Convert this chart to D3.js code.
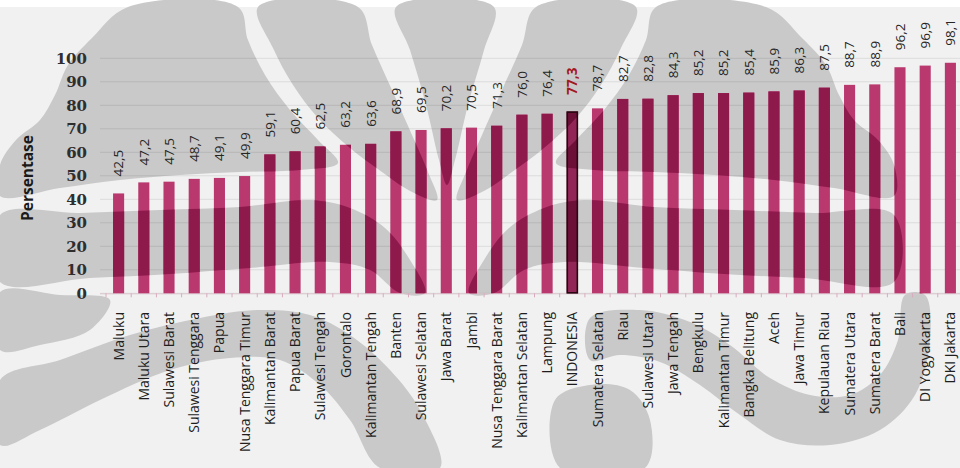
<!DOCTYPE html>
<html>
<head>
<meta charset="utf-8">
<script src="https://cdn.jsdelivr.net/npm/d3@7"></script>
<style>
  html, body { margin: 0; padding: 0; background: #ffffff; }
  svg { display: block; }
</style>
</head>
<body>
<div id="chart"></div>
<script>
// Persentase per provinsi, urut dari terendah ke tertinggi
const provinces = [
  "Maluku", "Maluku Utara", "Sulawesi Barat", "Sulawesi Tenggara", "Papua",
  "Nusa Tenggara Timur", "Kalimantan Barat", "Papua Barat", "Sulawesi Tengah",
  "Gorontalo", "Kalimantan Tengah", "Banten", "Sulawesi Selatan", "Jawa Barat",
  "Jambi", "Nusa Tenggara Barat", "Kalimantan Selatan", "Lampung", "INDONESIA",
  "Sumatera Selatan", "Riau", "Sulawesi Utara", "Jawa Tengah", "Bengkulu",
  "Kalimantan Timur", "Bangka Belitung", "Aceh", "Jawa Timur", "Kepulauan Riau",
  "Sumatera Utara", "Sumatera Barat", "Bali", "DI Yogyakarta", "DKI Jakarta"
];
const percentages = [
  42.5, 47.2, 47.5, 48.7, 49.1, 49.9, 59.1, 60.4, 62.5, 63.2,
  63.6, 68.9, 69.5, 70.2, 70.5, 71.3, 76.0, 76.4, 77.3, 78.7,
  82.7, 82.8, 84.3, 85.2, 85.2, 85.4, 85.9, 86.3, 87.5, 88.7,
  88.9, 96.2, 96.9, 98.1
];
const yTicks = [0, 10, 20, 30, 40, 50, 60, 70, 80, 90, 100];
const nationalLabel = "INDONESIA";
const yTitle = "Persentase";

const W = 960, H = 468;
const fmt = v => v.toFixed(1).replace(".", ",");

const svg = d3.select("#chart").append("svg")
  .attr("width", W).attr("height", H);

const x = d3.scaleBand().domain(provinces).range([106, 963])
  .paddingInner(0.56).paddingOuter(0.28);
const y = d3.scaleLinear().domain([0, 100]).range([293.3, 58.3]);

// Background watermark (university emblem), drawn as soft grey shapes
const AXIS_MID = 447;
const mirror = pts => pts.map(([px, py]) => [2 * AXIS_MID - px, py]);
const lobe = [[128,7],[238,7],[248,40],[265,75],[290,110],[318,140],[338,163],[300,170],[240,172],[180,175],[120,180],[60,188],[0,196],[0,165],[16,140],[40,120],[55,95],[68,65],[92,38]];
const crescent = [[258,7],[358,7],[372,45],[392,90],[412,135],[428,172],[437,200],[412,192],[382,172],[350,148],[318,118],[293,85],[273,48]];
const centre = [[396,7],[494,7],[484,50],[468,105],[455,160],[447,185],[439,160],[426,105],[410,50]];
const band = [[0,215],[80,213],[160,210],[240,207],[310,200],[350,208],[385,228],[410,260],[425,293],[400,293],[370,270],[330,262],[250,268],[170,274],[90,278],[0,282]];
const waveLeft = [[0,380],[60,360],[130,335],[200,318],[260,310],[310,315],[350,335],[390,370],[420,410],[440,468],[380,468],[350,420],[320,385],[280,360],[230,358],[170,370],[100,400],[40,430],[0,445]];
const edgeLeft = [[0,292],[60,295],[110,300],[90,330],[40,345],[0,350]];
const waveRight = [[590,318],[640,310],[690,322],[730,345],[770,378],[810,395],[850,395],[880,375],[898,340],[905,295],[925,295],[930,340],[915,395],[880,430],[830,445],[780,440],[740,415],[700,385],[660,362],[620,355],[590,360]];
const blobRight = [[555,400],[590,385],[630,390],[650,420],[645,468],[560,468]];
const emblem = [lobe, mirror(lobe), crescent, mirror(crescent), centre,
  band, mirror(band), waveLeft, edgeLeft, waveRight, blobRight];

const shapeLine = d3.line().curve(d3.curveCatmullRomClosed.alpha(0.5));
const defs = svg.append("defs");
const clip = defs.append("clipPath").attr("id", "emblem-clip");
emblem.forEach(s => clip.append("path").attr("d", shapeLine(s)));

svg.append("rect").attr("x", 0).attr("y", 7).attr("width", W).attr("height", H - 7)
  .attr("fill", "#f1f1f1");
svg.append("g").selectAll("path").data(emblem).join("path")
  .attr("d", shapeLine).attr("fill", "#c9c9c9");

// Gridlines
svg.append("g").selectAll("line").data(yTicks).join("line")
  .attr("x1", 100).attr("x2", W)
  .attr("y1", d => y(d)).attr("y2", d => y(d))
  .attr("stroke", "#000").attr("stroke-opacity", 0.09).attr("stroke-width", 1);

// Category axis line and ticks between bars
svg.append("line").attr("x1", 100).attr("x2", W)
  .attr("y1", y(0) + 0.5).attr("y2", y(0) + 0.5)
  .attr("stroke", "#dcc6cf");
svg.append("g").selectAll("line").data(provinces).join("line")
  .attr("x1", d => x(d) - x.step() * x.paddingInner() / 2)
  .attr("x2", d => x(d) - x.step() * x.paddingInner() / 2)
  .attr("y1", y(0)).attr("y2", y(0) + 4)
  .attr("stroke", "#d9aabe");

// Bars: light tone everywhere, deep tone where the emblem sits behind
const isNat = d => d === nationalLabel;
const data = provinces.map((p, i) => ({ p, v: percentages[i] }));
const barG = svg.append("g");
barG.selectAll("rect.base").data(data).join("rect")
  .attr("class", "base")
  .attr("x", d => x(d.p)).attr("width", x.bandwidth())
  .attr("y", d => y(d.v)).attr("height", d => y(0) - y(d.v))
  .attr("fill", d => isNat(d.p) ? "#922656" : "#b9396f");
barG.append("g").attr("clip-path", "url(#emblem-clip)")
  .selectAll("rect").data(data).join("rect")
  .attr("x", d => x(d.p)).attr("width", x.bandwidth())
  .attr("y", d => y(d.v)).attr("height", d => y(0) - y(d.v))
  .attr("fill", d => isNat(d.p) ? "#6c1037" : "#8e1a4c");
barG.selectAll("rect.outline").data(data.filter(d => isNat(d.p))).join("rect")
  .attr("class", "outline")
  .attr("x", d => x(d.p) + 0.5).attr("width", x.bandwidth() - 1)
  .attr("y", d => y(d.v) + 0.5).attr("height", d => y(0) - y(d.v) - 1)
  .attr("fill", "none").attr("stroke", "#2a0812").attr("stroke-width", 1.6);

// Value labels above bars
svg.append("g").selectAll("text").data(data).join("text")
  .attr("transform", d => `translate(${x(d.p) + x.bandwidth() / 2},${y(d.v) - 17}) rotate(-90)`)
  .attr("dy", "0.36em")
  .attr("text-anchor", "start")
  .attr("font-family", "'Open Sans', sans-serif")
  .attr("font-size", 13.5)
  .attr("font-weight", d => isNat(d.p) ? 700 : 400)
  .attr("fill", d => isNat(d.p) ? "#a3171f" : "#262626")
  .text(d => fmt(d.v));

// Category labels
svg.append("g").selectAll("text").data(provinces).join("text")
  .attr("transform", d => `translate(${x(d) + x.bandwidth() / 2},312) rotate(-90)`)
  .attr("dy", "0.36em")
  .attr("text-anchor", "end")
  .attr("font-family", "'Open Sans', sans-serif")
  .attr("font-size", 14)
  .attr("fill", "#1e1e1e")
  .text(d => d);

// Y axis tick labels
svg.append("g").selectAll("text").data(yTicks).join("text")
  .attr("x", 87).attr("y", d => y(d)).attr("dy", "0.36em")
  .attr("text-anchor", "end")
  .attr("font-family", "'DejaVu Serif', serif")
  .attr("font-weight", 700)
  .attr("font-size", 15)
  .attr("fill", "#2e2e2e")
  .text(d => d);

// Y axis title
svg.append("text")
  .attr("transform", "translate(27,178) rotate(-90)")
  .attr("dy", "0.36em")
  .attr("text-anchor", "middle")
  .attr("font-family", "'Open Sans', sans-serif")
  .attr("font-weight", 700)
  .attr("font-size", 15.5)
  .attr("fill", "#1a1a1a")
  .text(yTitle);
</script>
</body>
</html>
